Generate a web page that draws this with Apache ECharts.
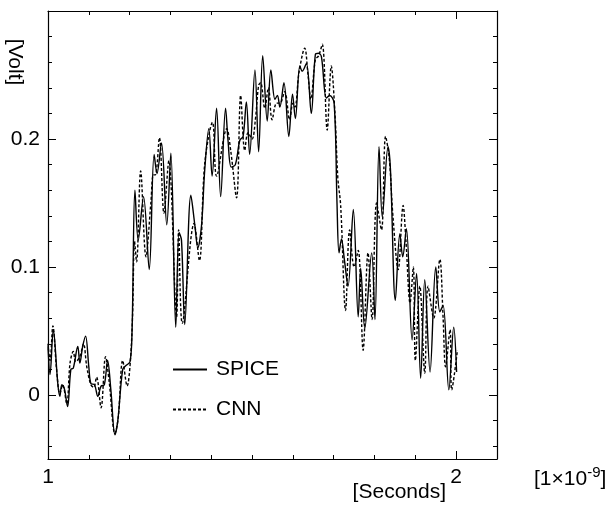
<!DOCTYPE html>
<html><head><meta charset="utf-8">
<script src="https://cdn.jsdelivr.net/npm/echarts@6/dist/echarts.min.js"></script>
<style>html,body{margin:0;padding:0;background:#fff}#c{width:616px;height:508px}</style>
</head><body><div id="c"></div>
<script>
// ---- data (time in units of 1e-9 s, voltage in V) ----
const spiceX = [1.000,1.005,1.013,1.024,1.029,1.034,1.040,1.048,1.056,1.062,1.073,1.078,1.085,1.092,1.100,1.105,1.114,1.122,1.130,1.138,1.146,1.154,1.164,1.171,1.183,1.191,1.201,1.206,1.213,1.221,1.234,1.248,1.260,1.267,1.278,1.291,1.301,1.313,1.321,1.327,1.335,1.350,1.360,1.367,1.376,1.384,1.394,1.402,1.413,1.423,1.435,1.441,1.449,1.459,1.470,1.478,1.486,1.494,1.507,1.516,1.526,1.537,1.546,1.556,1.562,1.568,1.578,1.590,1.599,1.606,1.617,1.623,1.633,1.645,1.655,1.663,1.670,1.682,1.690,1.701,1.708,1.713,1.719,1.726,1.735,1.748,1.760,1.766,1.776,1.793,1.801,1.811,1.819,1.833,1.839,1.851,1.862,1.869,1.878,1.892,1.903,1.913,1.923,1.936,1.950,1.960,1.968,1.982,1.994,2.001];
const spiceY = [0.038,0.016,0.051,0.009,-0.001,0.008,0.005,-0.009,0.020,0.021,0.038,0.025,0.038,0.046,0.022,0.009,0.008,-0.001,0.007,0.008,0.027,0.004,-0.031,-0.020,0.020,0.023,0.026,0.051,0.160,0.121,0.155,0.098,0.188,0.173,0.197,0.133,0.189,0.053,0.127,0.121,0.055,0.156,0.132,0.115,0.132,0.176,0.208,0.171,0.224,0.155,0.224,0.199,0.178,0.180,0.199,0.202,0.229,0.188,0.254,0.190,0.265,0.214,0.254,0.231,0.234,0.225,0.244,0.202,0.235,0.216,0.257,0.253,0.259,0.220,0.266,0.267,0.264,0.232,0.234,0.228,0.150,0.111,0.122,0.106,0.085,0.145,0.061,0.099,0.052,0.111,0.059,0.194,0.139,0.194,0.176,0.074,0.126,0.108,0.130,0.043,0.095,0.013,0.090,0.018,0.100,0.065,0.070,0.004,0.053,0.018];
const cnnX = [1.000,1.005,1.012,1.021,1.029,1.036,1.046,1.054,1.062,1.068,1.078,1.087,1.095,1.105,1.112,1.119,1.130,1.141,1.150,1.164,1.172,1.183,1.194,1.201,1.207,1.212,1.217,1.227,1.240,1.252,1.258,1.263,1.273,1.284,1.296,1.315,1.320,1.329,1.358,1.371,1.384,1.403,1.413,1.438,1.448,1.462,1.472,1.482,1.490,1.500,1.508,1.516,1.521,1.531,1.540,1.549,1.560,1.568,1.580,1.592,1.600,1.605,1.615,1.629,1.637,1.644,1.655,1.663,1.672,1.684,1.694,1.703,1.710,1.717,1.729,1.739,1.750,1.760,1.772,1.784,1.794,1.805,1.817,1.827,1.836,1.845,1.858,1.870,1.877,1.887,1.895,1.900,1.911,1.923,1.931,1.945,1.960,1.968,1.974,1.985,1.989,2.003];
const cnnY = [0.040,0.027,0.054,0.020,0.001,0.008,-0.007,0.025,0.034,0.026,0.030,0.040,0.022,0.008,0.006,0.014,-0.010,0.030,0.010,-0.030,-0.018,0.027,0.007,0.023,0.060,0.120,0.104,0.175,0.108,0.150,0.172,0.172,0.201,0.142,0.183,0.061,0.129,0.056,0.134,0.105,0.181,0.213,0.171,0.208,0.190,0.154,0.234,0.191,0.205,0.200,0.215,0.242,0.244,0.224,0.240,0.215,0.228,0.228,0.237,0.215,0.228,0.225,0.252,0.271,0.250,0.231,0.262,0.265,0.274,0.207,0.257,0.220,0.170,0.148,0.066,0.129,0.100,0.113,0.035,0.111,0.059,0.150,0.129,0.202,0.185,0.140,0.098,0.148,0.120,0.072,0.100,0.027,0.085,0.017,0.085,0.060,0.106,0.060,0.022,0.051,0.004,0.035];
const seriesNames = ['SPICE','CNN'];
const xTickValues = [1, 2];
const xTickLabels = ['1', '2'];
const yTickValues = [0, 0.1, 0.2];
const yTickLabels = ['0', '0.1', '0.2'];
const xUnitLabel = '[Seconds]';
const yUnitLabel = '[Volt]';

// ---- chart ----
const FONT = 'Liberation Sans';
const FS = 21;
const BLACK = '#000';
const pairs = (xs, ys) => xs.map((x, i) => [x, ys[i]]);
const labelFor = (vals, labs) => v => {
  for (let i = 0; i < vals.length; i++) if (Math.abs(v - vals[i]) < 1e-6) return labs[i];
  return '';
};

const L = 48, T = 11, W = 449, H = 448;
const pxPerX = 408;      // pixels per 1e-9 s
const pxPerY = 1280;     // pixels per volt

const line = { show: true, onZero: false, lineStyle: { color: BLACK, width: 1.2 } };
const noLine = { show: false, onZero: false };
const tick = len => ({ show: true, inside: true, length: len, lineStyle: { color: BLACK, width: 1 } });
const noLabel = { show: false };

const chart = echarts.init(document.getElementById('c'), null, { renderer: 'canvas' });
chart.setOption({
  animation: false,
  backgroundColor: '#fff',
  grid: [
    { left: L, top: T, width: W, height: H },                                  // main
    { left: L, top: T, width: pxPerX * 1.0, height: H },                       // x major ticks (1..2)
    { left: L, top: T, width: W, height: pxPerY * 0.34 },                       // y minor ticks (-0.04..0.3)
    { left: L, top: T, width: W, height: pxPerY * 0.30 }                        // y major ticks (0..0.3)
  ],
  xAxis: [
    { gridIndex: 0, type: 'value', position: 'bottom', min: 1, max: 2.1, interval: 0.1,
      axisLine: line, axisTick: tick(4), axisLabel: noLabel, splitLine: { show: false } },
    { gridIndex: 0, type: 'value', position: 'top', min: 1, max: 2.1, interval: 0.1,
      axisLine: line, axisTick: tick(4), axisLabel: noLabel, splitLine: { show: false } },
    { gridIndex: 1, type: 'value', position: 'bottom', min: 1, max: 2, interval: 1,
      axisLine: noLine, axisTick: tick(8), splitLine: { show: false },
      axisLabel: { show: true, margin: 8, color: BLACK, fontFamily: FONT, fontSize: FS,
        formatter: labelFor(xTickValues, xTickLabels) } },
    { gridIndex: 1, type: 'value', position: 'top', min: 1, max: 2, interval: 1,
      axisLine: noLine, axisTick: tick(8), axisLabel: noLabel, splitLine: { show: false } },
    { gridIndex: 2, type: 'value', show: false, min: 1, max: 2 },
    { gridIndex: 3, type: 'value', show: false, min: 1, max: 2 }
  ],
  yAxis: [
    { gridIndex: 0, type: 'value', position: 'left', min: -0.05, max: 0.3,
      axisLine: line, axisTick: { show: false }, axisLabel: noLabel, splitLine: { show: false } },
    { gridIndex: 0, type: 'value', position: 'right', min: -0.05, max: 0.3,
      axisLine: line, axisTick: { show: false }, axisLabel: noLabel, splitLine: { show: false } },
    { gridIndex: 1, type: 'value', show: false, min: 1, max: 2 },
    { gridIndex: 2, type: 'value', position: 'left', min: -0.04, max: 0.3, interval: 0.02,
      axisLine: noLine, axisTick: tick(4), axisLabel: noLabel, splitLine: { show: false } },
    { gridIndex: 2, type: 'value', position: 'right', min: -0.04, max: 0.3, interval: 0.02,
      axisLine: noLine, axisTick: tick(4), axisLabel: noLabel, splitLine: { show: false } },
    { gridIndex: 3, type: 'value', position: 'left', min: 0, max: 0.3, interval: 0.1,
      axisLine: noLine, axisTick: tick(8), splitLine: { show: false },
      axisLabel: { show: true, margin: 8, color: BLACK, fontFamily: FONT, fontSize: FS,
        formatter: labelFor(yTickValues, yTickLabels) } },
    { gridIndex: 3, type: 'value', position: 'right', min: 0, max: 0.3, interval: 0.1,
      axisLine: noLine, axisTick: tick(8), axisLabel: noLabel, splitLine: { show: false } }
  ],
  legend: {
    data: seriesNames, orient: 'vertical', left: 172, top: 359, padding: 0,
    itemWidth: 34, itemHeight: 20, itemGap: 19,
    itemStyle: { opacity: 0 },
    textStyle: { color: BLACK, fontFamily: FONT, fontSize: FS, padding: [0, 0, 0, 4] }
  },
  series: [
    { name: seriesNames[0], type: 'line', xAxisIndex: 0, yAxisIndex: 0, data: pairs(spiceX, spiceY),
      smooth: 0.35, showSymbol: false, symbol: 'none',
      lineStyle: { color: BLACK, width: 1.4, type: 'solid' }, itemStyle: { color: BLACK } },
    { name: seriesNames[1], type: 'line', xAxisIndex: 0, yAxisIndex: 0, data: pairs(cnnX, cnnY),
      smooth: 0.35, showSymbol: false, symbol: 'none',
      lineStyle: { color: BLACK, width: 1.4, type: [3, 2] }, itemStyle: { color: BLACK } }
  ],
  graphic: [
    { type: 'text', x: 15, y: 62, rotation: -Math.PI / 2,
      style: { text: yUnitLabel, fill: BLACK, font: FS + 'px "Liberation Sans"', textAlign: 'center', textVerticalAlign: 'middle' } },
    { type: 'text', x: 446, y: 492,
      style: { text: xUnitLabel, fill: BLACK, font: FS + 'px "Liberation Sans"', textAlign: 'right', textVerticalAlign: 'middle' } },
    { type: 'text', x: 534, y: 479,
      style: { text: '{a|[1×10}{s|-9}{a|]}', textVerticalAlign: 'middle',
        rich: { a: { fill: BLACK, fontFamily: FONT, fontSize: FS },
                s: { fill: BLACK, fontFamily: FONT, fontSize: 15, padding: [0, 0, 13, 0] } } } }
  ]
});
</script>
</body></html>
